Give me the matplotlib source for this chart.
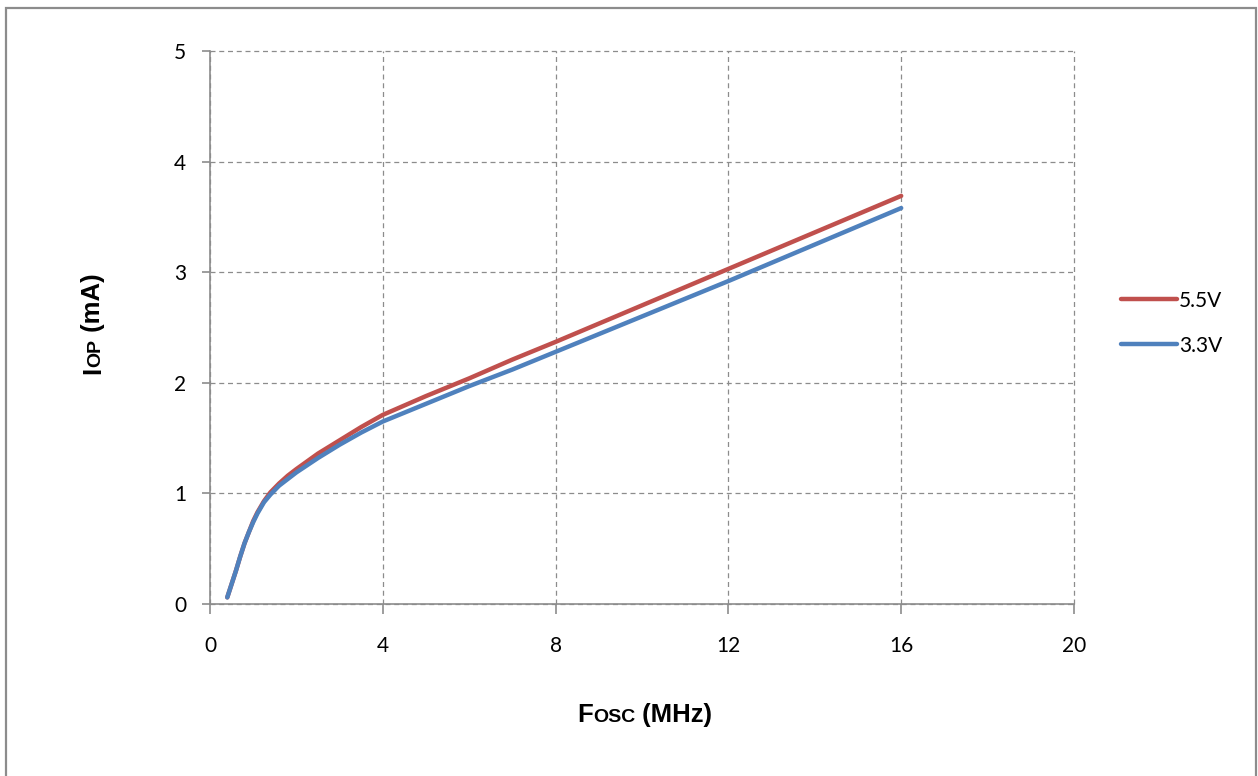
import matplotlib.pyplot as plt
from matplotlib.patches import Rectangle

# 数据：频率 (MHz) 与工作电流 (mA)
fosc = [0.4, 0.5, 0.6, 0.7, 0.8, 0.9, 1.0, 1.1, 1.25, 1.4, 1.6, 1.8, 2.0, 2.5, 3.0, 3.5, 4.0, 5.0, 6.0, 7.0, 8.0, 10.0, 12.0, 14.0, 16.0]
iop_55 = [0.06, 0.18, 0.30, 0.43, 0.55, 0.65, 0.75, 0.83, 0.93, 1.01, 1.09, 1.16, 1.22, 1.36, 1.48, 1.60, 1.71, 1.88, 2.04, 2.21, 2.37, 2.70, 3.03, 3.36, 3.69]
iop_33 = [0.06, 0.18, 0.30, 0.43, 0.55, 0.65, 0.74, 0.82, 0.92, 0.99, 1.07, 1.13, 1.19, 1.32, 1.44, 1.55, 1.65, 1.81, 1.97, 2.12, 2.28, 2.60, 2.92, 3.25, 3.58]
labels = ['5.5V', '3.3V']
xticks = [0, 4, 8, 12, 16, 20]
yticks = [0, 1, 2, 3, 4, 5]

W, H = 1258, 776
fig = plt.figure(figsize=(W / 100, H / 100), dpi=100)
ax = fig.add_axes([210 / W, 1 - 604 / H, (1074 - 210) / W, (604 - 51) / H])

ax.plot(fosc, iop_55, color='#C0504D', lw=3.2, solid_capstyle='round', label=labels[0])
ax.plot(fosc, iop_33, color='#4F81BD', lw=3.2, solid_capstyle='round', label=labels[1])

ax.set_xlim(0, 20)
ax.set_ylim(0, 5)
ax.set_xticks(xticks)
ax.set_yticks(yticks)
ax.grid(True, ls=(0, (4, 3)), color='#8c8c8c', lw=0.9)
for g in ax.get_xgridlines() + ax.get_ygridlines():
    g.set_clip_on(False)
ax.set_axisbelow(True)
for s in ['top', 'right']:
    ax.spines[s].set_visible(False)
for s in ['left', 'bottom']:
    ax.spines[s].set_color('#8c8c8c')
    ax.spines[s].set_linewidth(1.2)
tfont = 'Lato'
ax.tick_params(axis='x', length=7, width=1.2, color='#8c8c8c', pad=16, labelsize=15)
ax.tick_params(axis='y', length=6, width=1.2, color='#8c8c8c', pad=11, labelsize=15)
for t in ax.get_xticklabels() + ax.get_yticklabels():
    t.set_fontfamily(tfont)

leg = ax.legend(loc='upper left', bbox_to_anchor=(1102 / W, 1 - 272 / H),
                bbox_transform=fig.transFigure, frameon=False,
                prop={'family': tfont, 'size': 15},
                handlelength=2.7, handletextpad=0.1, labelspacing=1.2)

# 坐标轴标题（小型大写字母效果）
fam = 'Liberation Sans'
big, small = 18.5, 14


def caps_label(x, y, parts, rot):
    # parts: list of (text, size); 依次拼接
    kw = dict(fontweight='bold', family=fam, va='baseline', ha='left',
              rotation=rot, rotation_mode='anchor')
    r = fig.canvas.get_renderer()
    pos = x
    for txt, size in parts:
        if rot == 0:
            t = fig.text(pos, y, txt, fontsize=size, **kw)
            pos += t.get_window_extent(r).width / W
        else:
            t = fig.text(y, pos, txt, fontsize=size, **kw)
            pos += t.get_window_extent(r).height / H


caps_label(577 / W, 1 - 722 / H, [('F', big), ('OSC', small), (' (MHz)', big)], 0)
caps_label(1 - 374 / H, 100 / W, [('I', big), ('OP', small), (' (mA)', big)], 90)

# 外框
fig.patches.append(Rectangle((6 / W, -0.05), (1256 - 6) / W, 1 - 8 / H + 0.05,
                             transform=fig.transFigure, fill=False,
                             edgecolor='#8c8c8c', lw=1.6))

fig.savefig('out.png', dpi=100)
